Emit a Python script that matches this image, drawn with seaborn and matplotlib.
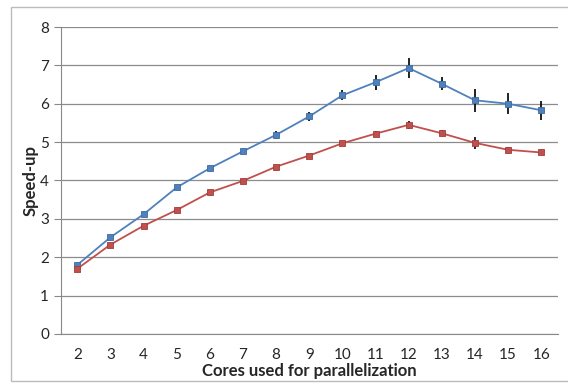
import numpy as np
import pandas as pd
import matplotlib.pyplot as plt
import seaborn as sns

# data
cores = [2, 3, 4, 5, 6, 7, 8, 9, 10, 11, 12, 13, 14, 15, 16]
speedup_blue = [1.80, 2.52, 3.12, 3.82, 4.32, 4.76, 5.19, 5.67, 6.22, 6.56, 6.93, 6.52, 6.09, 6.00, 5.83]
err_blue = [0.03, 0.04, 0.05, 0.05, 0.05, 0.05, 0.10, 0.12, 0.13, 0.20, 0.25, 0.17, 0.30, 0.27, 0.25]
speedup_red = [1.70, 2.33, 2.82, 3.23, 3.69, 3.99, 4.36, 4.65, 4.97, 5.22, 5.45, 5.23, 4.98, 4.80, 4.73]
err_red = [0.03, 0.04, 0.04, 0.04, 0.04, 0.04, 0.05, 0.05, 0.05, 0.08, 0.10, 0.08, 0.15, 0.06, 0.05]

sns.set_style("white")
plt.rcParams['font.family'] = ['Lato', 'DejaVu Sans']

df = pd.DataFrame({
    'cores': cores * 2,
    'speedup': speedup_blue + speedup_red,
    'series': ['a'] * len(cores) + ['b'] * len(cores),
})

fig = plt.figure(figsize=(5.68, 3.83), dpi=100)
ax = fig.add_axes([0.107, 0.128, 0.875, 0.8015])

# error bars first so the markers sit on top
ax.errorbar(cores, speedup_blue, yerr=err_blue, fmt='none', ecolor='#111111', elinewidth=1.3, zorder=2)
ax.errorbar(cores, speedup_red, yerr=err_red, fmt='none', ecolor='#111111', elinewidth=1.3, zorder=2)

sns.lineplot(data=df, x='cores', y='speedup', hue='series', palette=['#4f81bd', '#c0504d'],
             marker='s', markersize=5, markeredgewidth=0.6, linewidth=1.3, legend=False, ax=ax, zorder=3)
for line, ec in zip(ax.get_lines()[-2:], ['#3c6aa0', '#a23c39']):
    line.set_markeredgecolor(ec)

ax.set_xlim(1.5, 16.5)
ax.set_ylim(0, 8)
ax.set_xticks(cores)
ax.set_xticklabels([str(c) for c in cores], fontsize=11)
ax.set_xticks(np.arange(1.5, 17, 1), minor=True)
ax.tick_params(axis='x', which='major', length=0, pad=10)
ax.tick_params(axis='x', which='minor', length=5, width=0.8, color='#888888', direction='out')
ax.set_yticks(range(0, 9))
ax.tick_params(axis='y', labelsize=11, length=5, width=0.8, color='#888888', direction='out', left=True)
ax.grid(axis='y', color='#8c8c8c', linewidth=0.9)
ax.set_axisbelow(True)

for side in ['top', 'right']:
    ax.spines[side].set_visible(False)
ax.spines['left'].set_color('#888888')
ax.spines['bottom'].set_color('#888888')

ax.set_xlabel('Cores used for parallelization', fontsize=12, fontweight='bold', labelpad=1)
ax.set_ylabel('Speed-up', fontsize=12, fontweight='bold', labelpad=1)

# thin frame around the whole chart area
frame = plt.Rectangle((0.02, 0.006), 1.1, 0.975, transform=fig.transFigure, fill=False,
                      edgecolor='#bbbbbb', linewidth=1)
fig.add_artist(frame)

fig.savefig('out.png', dpi=100)
